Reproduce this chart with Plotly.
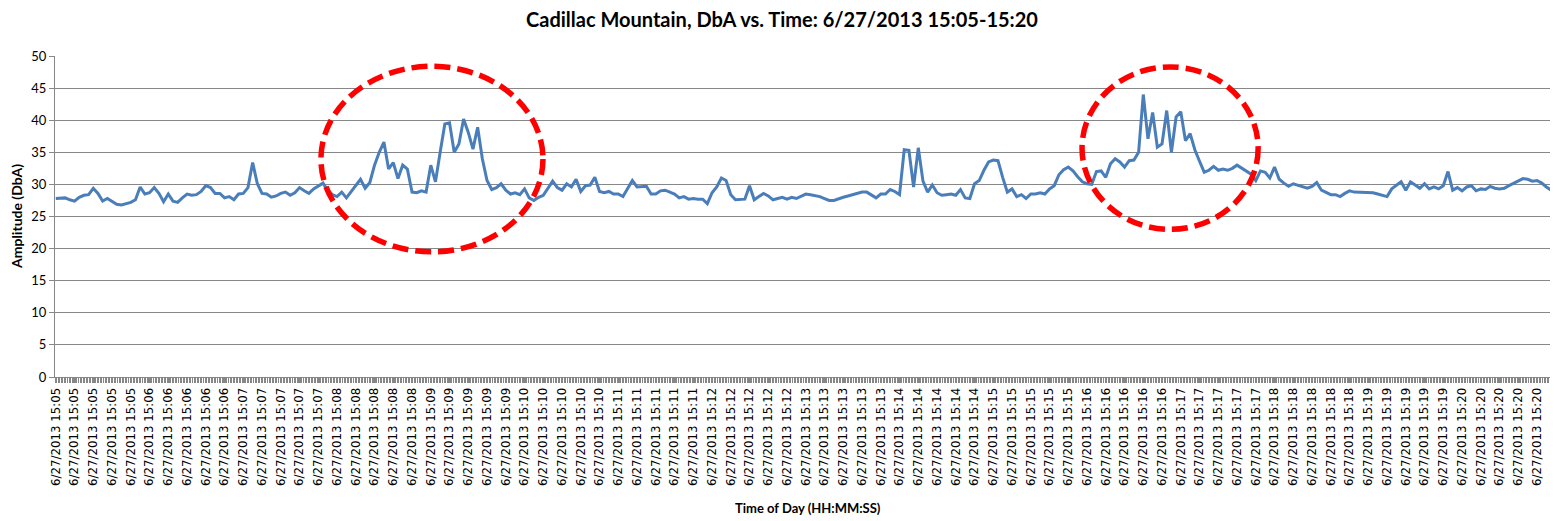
import plotly.graph_objects as go

# Sound level readings (DbA), one every 3 seconds starting 15:05:00
values = [
    27.8, 27.9, 27.9, 27.6, 27.4, 28.0, 28.3, 28.4, 29.4, 28.6, 27.4, 27.8, 27.3, 26.9, 26.8, 27.0,
    27.2, 27.6, 29.6, 28.5, 28.7, 29.5, 28.6, 27.3, 28.5, 27.4, 27.2, 27.9, 28.5, 28.3, 28.4, 28.9,
    29.8, 29.5, 28.6, 28.6, 27.9, 28.1, 27.6, 28.5, 28.6, 29.5, 33.4, 30.1, 28.6, 28.5, 28.0, 28.2,
    28.6, 28.8, 28.3, 28.7, 29.5, 29.0,
    28.6, 29.3, 29.7, 30.2, 29.1, 28.4, 28.1, 28.8, 27.9, 28.9, 29.8, 30.8, 29.4, 30.3, 33.0, 35.0,
    36.6, 32.4, 33.4, 30.9, 33.0, 32.4, 28.8, 28.7, 29.0, 28.8, 33.0, 30.4, 35.0, 39.4, 39.6, 35.0,
    36.3, 40.2, 38.1, 35.5, 38.9, 34.0, 30.6, 29.2, 29.5, 30.1, 29.1, 28.5, 28.7, 28.4, 29.3, 27.9,
    27.5, 28.0, 28.3, 29.4, 30.5,
    29.5, 29.1, 30.1, 29.6, 30.8, 28.9, 29.8, 29.9, 31.1, 28.9, 28.7, 28.9, 28.5, 28.5, 28.1, 29.3,
    30.6, 29.6, 29.6, 29.7, 28.5, 28.5, 29.0, 29.1, 28.8, 28.5, 27.9, 28.1, 27.7, 27.8, 27.7, 27.7,
    27.0, 28.7, 29.6, 31.0, 30.6, 28.4, 27.6, 27.7, 27.7, 29.8, 27.6, 28.1, 28.6, 28.2, 27.6, 27.8,
    28.0, 27.7, 28.0, 27.8, 28.1,
    28.5, 28.4, 28.3, 28.1, 27.8, 27.5, 27.5, 27.8, 28.0, 28.2, 28.4, 28.7, 28.8, 28.8, 28.3, 27.9,
    28.5, 28.5, 29.2, 28.9, 28.4, 35.4, 35.3, 29.6, 35.7, 30.5, 28.8, 29.9, 28.7, 28.3, 28.4, 28.5,
    28.3, 29.2, 27.9, 27.8, 30.1, 30.6, 32.2, 33.5, 33.8, 33.7, 31.1, 28.8, 29.3, 28.1, 28.4, 27.8,
    28.5, 28.5, 28.7, 28.5, 29.3, 29.8,
    31.5, 32.3, 32.7, 32.1, 31.2, 30.4, 30.1, 30.0, 32.0, 32.1, 31.1, 33.2, 34.0, 33.5, 32.7, 33.7,
    33.8, 35.0, 44.0, 37.1, 41.2, 35.8, 36.3, 41.5, 35.0, 40.5, 41.3, 36.8, 37.9, 35.4, 33.6, 31.9,
    32.2, 32.8, 32.2, 32.4, 32.2, 32.5, 33.0, 32.5, 32.1, 31.6, 30.6, 32.1, 31.9, 31.0, 32.7, 30.8,
    30.2, 29.7, 30.1, 29.9, 29.6,
    29.4, 29.7, 30.3, 29.1, 28.7, 28.4, 28.4, 28.1, 28.6, 29.0, 28.8, 28.8, 28.7, 28.7, 28.7, 28.5,
    28.3, 28.1, 29.3, 29.8, 30.4, 29.1, 30.4, 29.9, 29.4, 30.1, 29.3, 29.6, 29.3, 29.8, 32.0, 29.1,
    29.5, 29.0, 29.6, 29.8, 29.0, 29.3, 29.2, 29.7, 29.4, 29.3, 29.4, 29.8, 30.2, 30.5, 30.9, 30.8,
    30.5, 30.6, 30.2, 29.6, 29.1,
]
SAMPLE_STEP = 3          # seconds between readings
N_SECONDS = 960          # 15:05:00 .. 15:20:59
LABEL_EVERY = 12         # one category label every 12 seconds
minutes = ["15:05", "15:06", "15:07", "15:08", "15:09", "15:10", "15:11", "15:12",
           "15:13", "15:14", "15:15", "15:16", "15:17", "15:18", "15:19", "15:20"]

seconds = [i * SAMPLE_STEP for i in range(len(values))]
tick_pos = list(range(0, N_SECONDS, LABEL_EVERY))
tick_text = ["6/27/2013 " + minutes[p // 60] for p in tick_pos]

GRID = "#878787"
FONT = "DejaVu Sans"
W, H = 1550, 513   # page body has an 8px margin

fig = go.Figure()
fig.add_trace(go.Scatter(
    x=seconds, y=values, mode="lines",
    line=dict(color="#4A7EBB", width=3),
    hoverinfo="skip",
))

ellipse_style = dict(type="circle", xref="x", yref="y",
                     line=dict(color="#FF0000", width=5.5, dash="16px,7px"))
fig.add_shape(x0=169.7, x1=311.8, y0=19.5, y1=48.4, **ellipse_style)
fig.add_shape(x0=656.8, x1=769.5, y0=23.0, y1=48.3, **ellipse_style)

fig.update_layout(
    width=W, height=H,
    margin=dict(l=47, r=3, t=48, b=144),
    paper_bgcolor="white", plot_bgcolor="white",
    showlegend=False,
    title=dict(text="<b>Cadillac Mountain, DbA vs. Time: 6/27/2013 15:05-15:20</b>",
               x=774 / W, xref="container", xanchor="center",
               y=1 - 12 / H, yref="container", yanchor="middle",
               font=dict(family="Lato", size=20, color="#000000")),
    xaxis=dict(
        range=[-0.5, N_SECONDS - 0.5],
        tickmode="array", tickvals=tick_pos, ticktext=tick_text,
        tickangle=-90, tickfont=dict(family=FONT, size=11.8, color="#000000"),
        showgrid=False, zeroline=False,
        showline=True, linecolor=GRID, linewidth=1,
        ticks="outside", ticklen=5, tickcolor=GRID,
        minor=dict(ticks="outside", ticklen=5, tick0=-0.5, dtick=1,
                   tickcolor=GRID, showgrid=False),
        automargin=False,
    ),
    yaxis=dict(
        range=[0, 50], dtick=5, tick0=0,
        tickfont=dict(family="Lato", size=13, color="#000000"),
        showgrid=True, gridcolor=GRID, gridwidth=1,
        zeroline=False, showline=True, linecolor=GRID, linewidth=1,
        ticks="outside", ticklen=5, tickcolor=GRID,
        automargin=False,
    ),
    annotations=[
        dict(text="<b>Amplitude (DbA)</b>", xref="paper", yref="paper",
             x=(17 - 55) / 1500, y=(377 - 217) / 321, textangle=-90, showarrow=False,
             xanchor="center", yanchor="middle",
             font=dict(family="Lato", size=14, color="#000000")),
        dict(text="<b>Time of Day (HH:MM:SS)</b>", xref="paper", yref="paper",
             x=(808 - 55) / 1500, y=(377 - 508) / 321, showarrow=False,
             xanchor="center", yanchor="middle",
             font=dict(family="Lato", size=13, color="#000000")),
    ],
)

fig.write_html("out.html")
